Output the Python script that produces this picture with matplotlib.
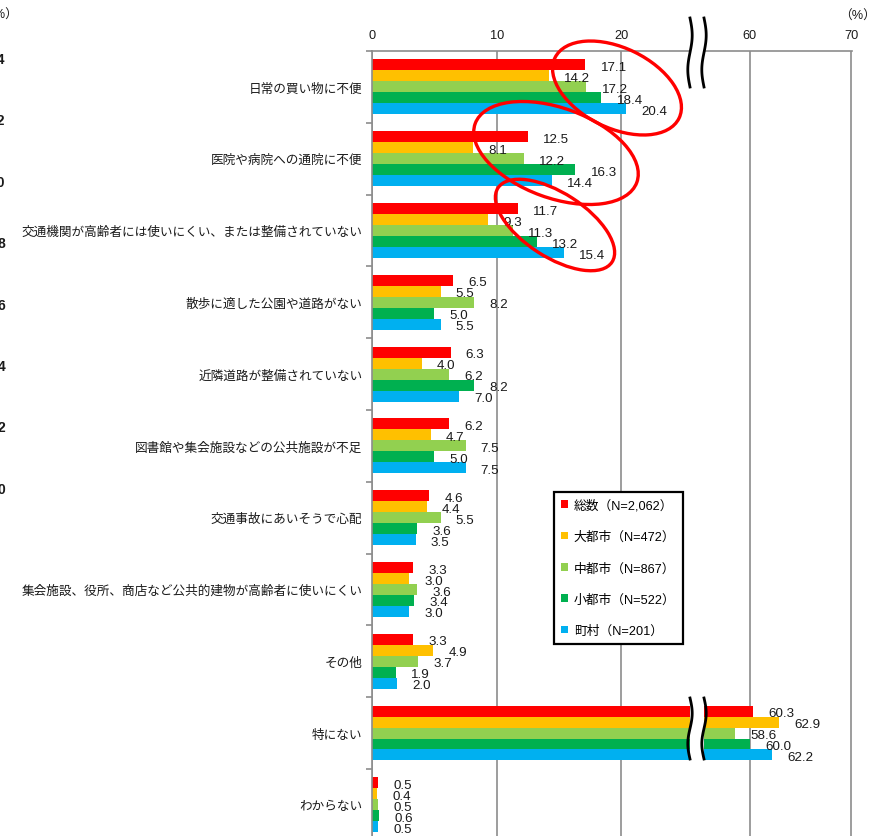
import numpy as np
import matplotlib
matplotlib.use("Agg")
import matplotlib.pyplot as plt
from matplotlib.patches import Patch, Ellipse
from matplotlib.lines import Line2D
from matplotlib.transforms import IdentityTransform

plt.rcParams["font.family"] = ["Liberation Sans", "Noto Sans CJK JP"]

categories = [
    "日常の買い物に不便",
    "医院や病院への通院に不便",
    "交通機関が高齢者には使いにくい、または整備されていない",
    "散歩に適した公園や道路がない",
    "近隣道路が整備されていない",
    "図書館や集会施設などの公共施設が不足",
    "交通事故にあいそうで心配",
    "集会施設、役所、商店など公共的建物が高齢者に使いにくい",
    "その他",
    "特にない",
    "わからない",
]
series_names = ["総数（N=2,062）", "大都市（N=472）", "中都市（N=867）",
                "小都市（N=522）", "町村（N=201）"]
colors = ["#FF0000", "#FFC000", "#92D050", "#00B050", "#00B0F0"]

total = [17.1, 12.5, 11.7, 6.5, 6.3, 6.2, 4.6, 3.3, 3.3, 60.3, 0.5]
large_city = [14.2, 8.1, 9.3, 5.5, 4.0, 4.7, 4.4, 3.0, 4.9, 62.9, 0.4]
mid_city = [17.2, 12.2, 11.3, 8.2, 6.2, 7.5, 5.5, 3.6, 3.7, 58.6, 0.5]
small_city = [18.4, 16.3, 13.2, 5.0, 8.2, 5.0, 3.6, 3.4, 1.9, 60.0, 0.6]
towns = [20.4, 14.4, 15.4, 5.5, 7.0, 7.5, 3.5, 3.0, 2.0, 62.2, 0.5]
series = [total, large_city, mid_city, small_city, towns]

left_ticks = [0, 10, 20]
right_ticks = [60, 70]
# tick labels of the neighbouring chart, cut off at the left edge
stray_ticks = ["14", "12", "10", "8", "6", "4", "2", "0"]

W, H = 878, 837
fig = plt.figure(figsize=(W / 100, H / 100), dpi=100)

bottom = 1 - 841.7 / H
height = 789.7 / H
ax1 = fig.add_axes([372 / W, bottom, 318 / W, height])
ax2 = fig.add_axes([704 / W, bottom, 148 / W, height])

grid_c = "#8c8c8c"
txt_c = "#1a1a1a"
bar_h = 0.153
y = np.arange(len(categories))

for j, (vals, c) in enumerate(zip(series, colors)):
    yy = y + (j - 2) * bar_h
    for ax in (ax1, ax2):
        ax.barh(yy, vals, height=bar_h, color=c, zorder=2)
    for v, yv in zip(vals, yy):
        ax = ax2 if v > 30 else ax1
        ax.annotate(f"{v:.1f}", (v, yv), xytext=(11, -1.5), textcoords="offset points",
                    va="center", ha="left", fontsize=9.6, color=txt_c)

ax1.set_xlim(0, 25.5)
ax2.set_xlim(55.5, 70.1)
for ax, ticks in ((ax1, left_ticks), (ax2, right_ticks)):
    ax.set_ylim(10.5, -0.5)
    ax.xaxis.tick_top()
    ax.set_xticks(ticks)
    ax.tick_params(axis="x", length=0, pad=7, labelsize=9.2, labelcolor=txt_c)
    ax.xaxis.grid(True, color=grid_c, lw=1.2)
    ax.set_axisbelow(True)
    for s in ("right", "bottom"):
        ax.spines[s].set_visible(False)
    ax.spines["top"].set_color(grid_c)
    ax.spines["top"].set_linewidth(1.2)

ax2.spines["left"].set_visible(False)
ax2.set_yticks([])

ax1.spines["left"].set_color(grid_c)
ax1.spines["left"].set_linewidth(1.2)
ax1.set_yticks(y, categories)
ax1.set_yticks(np.arange(-0.5, len(categories), 1), minor=True)
ax1.tick_params(axis="y", which="major", length=0, pad=7, labelsize=9.1, labelcolor=txt_c)
ax1.tick_params(axis="y", which="minor", length=4, color=grid_c, width=1.2, direction="out")

# axis break marks
def wavy(x0, y0, y1):
    t = np.linspace(0, 1, 60)
    ys = y0 + (y1 - y0) * t
    xs = x0 + 2.2 * np.sin(2 * np.pi * t)
    fig.add_artist(Line2D(xs / W, 1 - ys / H, color="black", lw=2))

for x0 in (690, 704):
    wavy(x0, 19, 88)
    wavy(x0, 699, 760)

handles = [Patch(facecolor=c, label=n) for c, n in zip(colors, series_names)]
leg = fig.legend(handles=handles, loc="upper left", bbox_to_anchor=(554 / W, 1 - 493 / H),
                 frameon=True, fancybox=False, edgecolor="black", framealpha=1,
                 fontsize=9.2, handlelength=0.55, handleheight=0.55, handletextpad=0.45,
                 labelspacing=1.5, borderpad=0.55, borderaxespad=0)
leg.get_frame().set_linewidth(1.6)

# red circles drawn over the chart
for cx, cy, w, h, ang in [(617, 89, 138, 80, -26),
                          (556, 154, 172, 90, -20),
                          (555, 226, 136, 64, -33)]:
    fig.add_artist(Ellipse((cx, H - cy), w, h, angle=ang, transform=IdentityTransform(),
                           fill=False, ec="red", lw=2.4))

fig.text(876 / W, 1 - 17 / H, "（%）", ha="right", va="center", fontsize=9.2, color=txt_c)
fig.text(18 / W, 1 - 16 / H, "（%）", ha="right", va="center", fontsize=9.2, color=txt_c)
for i, s in enumerate(stray_ticks):
    fig.text(5 / W, 1 - (60 + i * 61.4) / H, s, ha="right", va="center",
             fontsize=10, fontweight="bold", color=txt_c)

fig.savefig("out.png", dpi=100)
